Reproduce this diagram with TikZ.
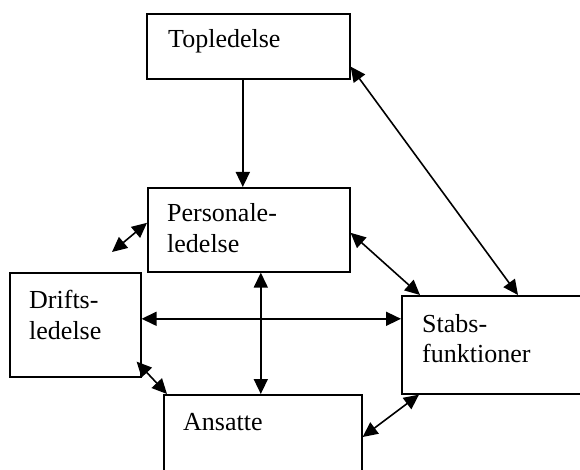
\documentclass[tikz,border=0pt]{standalone}
\usepackage{fontspec}
\setmainfont{Liberation Serif}
\usetikzlibrary{arrows.meta}
\tikzset{
  box/.style={draw=black, line width=1.6pt, rectangle, inner sep=0pt, anchor=north west},
  lbl/.style={inner sep=0pt, anchor=base west, font=\fontsize{26}{30}\selectfont},
  conn/.style={line width=1.6pt, draw=black},
  one/.style={conn, -{Triangle[length=15pt,width=14pt]}},
  two/.style={conn, {Triangle[length=15pt,width=14pt]}-{Triangle[length=15pt,width=14pt]}}
}
\begin{document}
\begin{tikzpicture}[x=1pt,y=-1pt]
\useasboundingbox (0,0) rectangle (580,470);
% boxes
\node[box, minimum width=203pt, minimum height=65pt] (top) at (146,13) {};
\node[box, minimum width=202pt, minimum height=84pt] (pers) at (147,187) {};
\node[box, minimum width=131pt, minimum height=104pt] (drift) at (9,272) {};
\node[box, minimum width=200pt, minimum height=98pt] (stabs) at (401,295) {};
\node[box, minimum width=198pt, minimum height=110pt] (ans) at (163,394) {};
% texts
\node[lbl] (toptxt) at (168,48) {Topledelse};
\node[lbl] (perstxta) at (167,222) {Personale-};
\node[lbl] (perstxtb) at (167,252) {ledelse};
\node[lbl] (drifttxta) at (29,308) {Drifts-};
\node[lbl] (drifttxtb) at (29,339) {ledelse};
\node[lbl] (stabstxta) at (422,332) {Stabs-};
\node[lbl] (stabstxtb) at (422,362) {funktioner};
\node[lbl] (anstxt) at (183,430) {Ansatte};
% free end
\coordinate (freeend) at (112,252);
% connectors
\draw[one] ([xshift=-5.5pt]top.south) -- ([xshift=-5.5pt]top.south |- pers.north);
\draw[two] ([yshift=13pt]top.south east) -- ([xshift=117pt]stabs.north west);
\draw[two] ([yshift=7pt]pers.west) -- (freeend);
\draw[two] ([yshift=-3pt]pers.east) -- ([xshift=19pt]stabs.north west);
\draw[two] ([xshift=12pt]pers.south) -- ([xshift=12pt]pers.south |- ans.north);
\draw[two] ([yshift=6pt]drift.east) -- ([yshift=6pt]drift.east -| stabs.west);
\draw[two] ([xshift=-5pt,yshift=16pt]drift.south east) -- ([xshift=4pt]ans.north west);
\draw[two] ([xshift=18pt]stabs.south west) -- ([yshift=-43pt]ans.north east);
\end{tikzpicture}
\end{document}
